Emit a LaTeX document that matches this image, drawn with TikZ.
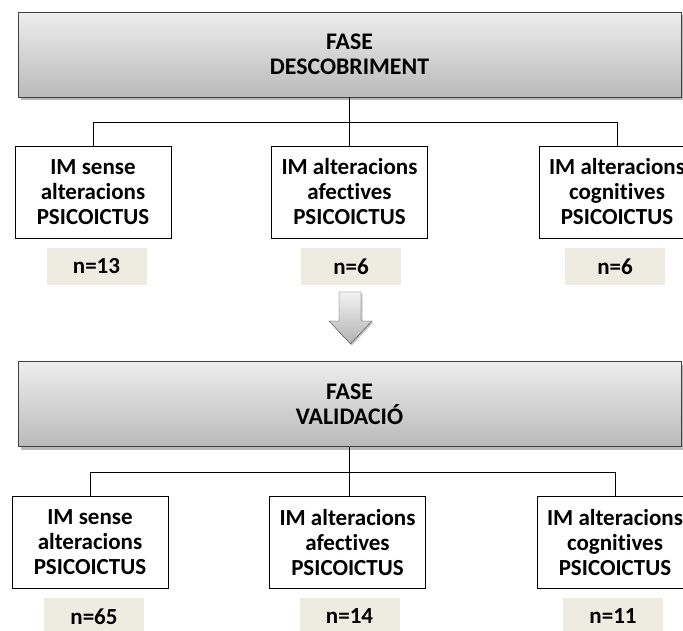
\documentclass[tikz,border=0pt]{standalone}
\usepackage{fontspec}
\setmainfont{Carlito}[Ligatures={NoCommon}]
\usetikzlibrary{shadows}
\definecolor{sandfill}{HTML}{EEECE1}
\newcommand{\boxfont}{\bfseries\fontsize{23}{25}\selectfont}
\tikzset{
  phase/.style={draw=black!75, top color=black!7, bottom color=black!27,
    minimum width=663pt, minimum height=85pt, align=center,
    font=\bfseries\fontsize{23.8}{25}\selectfont,
    drop shadow={shadow xshift=3pt, shadow yshift=-3pt, fill=black!55}},
  group/.style={draw, fill=white, minimum width=156pt, minimum height=92pt,
    inner sep=0pt, align=center, font=\boxfont},
  count/.style={fill=sandfill, minimum width=100pt, minimum height=37pt, font=\boxfont}
}
\begin{document}
\begin{tikzpicture}[x=1pt,y=-1pt]
  \useasboundingbox (0,0) rectangle (683,630);
  % fase descobriment
  \node[phase] (disc) at (349.5,54.5) {FASE\\DESCOBRIMENT};
  \foreach \i/\x/\cx/\txt/\num in {1/93/96.5/{IM sense\\alteracions\\PSICOICTUS}/13,
      2/349.5/351/{IM alteracions\\afectives\\PSICOICTUS}/6,
      3/617/615/{IM alteracions\\cognitives\\PSICOICTUS}/6} {
    \node[group] (d\i) at (\x,192) {\txt};
    \node[count] (dn\i) at (\cx,266.5) {n=\num};
  }
  \draw (disc.south) -- (disc.south |- d2.north);
  \draw (d1.north) -- ++(0,-24) -| (d3.north);
  % fletxa
  \draw[draw=black!75, top color=black!5, bottom color=black!30,
    drop shadow={shadow xshift=1.5pt, shadow yshift=-1.5pt, fill=black!40}]
    (339,292) -- (361,292) -- (361,321) -- (372,321) -- (350.5,344)
    -- (329,321) -- (339,321) -- cycle;
  % fase validacio
  \node[phase] (valid) at (349.5,404) {FASE\\VALIDACIÓ};
  \foreach \i/\x/\cx/\txt/\num in {1/90/94/{IM sense\\alteracions\\PSICOICTUS}/65,
      2/347.5/349.5/{IM alteracions\\afectives\\PSICOICTUS}/14,
      3/615/613/{IM alteracions\\cognitives\\PSICOICTUS}/11} {
    \node[group] (v\i) at (\x,542.5) {\txt};
    \node[count] (vn\i) at (\cx,616.5) {n=\num};
  }
  \draw (valid.south) -- (valid.south |- v2.north);
  \draw (v1.north) -- ++(0,-24) -| (v3.north);
\end{tikzpicture}
\end{document}
